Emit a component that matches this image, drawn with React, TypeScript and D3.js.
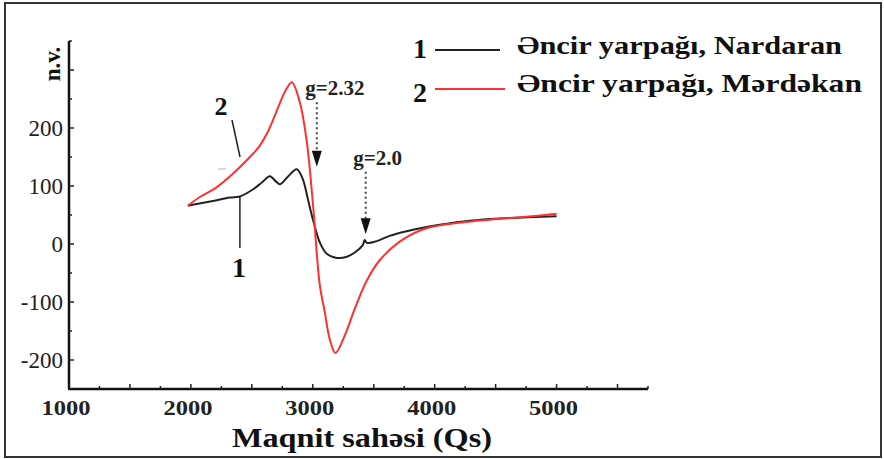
import * as d3 from 'd3'

// Series 1 — black (Nardaran)
const field1 = [1975, 2049, 2180, 2320, 2402, 2508, 2582, 2648, 2697, 2730, 2795, 2869, 2918, 2959, 3000, 3057, 3115, 3197, 3279, 3361, 3410, 3426, 3443, 3525, 3631, 3770, 3902, 4041, 4287, 4533, 5000]
const signal1 = [66, 69, 74, 80, 82, 94, 106, 117, 108, 103, 116, 129, 112, 78, 43, 3, -17, -24, -22, -12, -2, 7, 2, 5, 14, 22, 28, 33, 40, 44, 48]

// Series 2 — red (Mərdəkan)
const field2 = [1975, 2074, 2213, 2344, 2484, 2560, 2623, 2680, 2730, 2780, 2828, 2893, 2951, 3000, 3057, 3098, 3139, 3185, 3262, 3344, 3443, 3549, 3713, 3902, 4098, 4451, 4697, 5000]
const signal2 = [66, 81, 98, 121, 150, 168, 190, 217, 243, 266, 279, 245, 176, 72, -70, -117, -164, -188, -158, -112, -63, -28, 4, 25, 34, 42, 46, 52]

const xLabels = [1000, 2000, 3000, 4000, 5000]
const yLabels = [-200, -100, 0, 100, 200]
const legendNames = ['Əncir yarpağı, Nardaran', 'Əncir yarpağı, Mərdəkan']
const gMarks = [
  { label: 'g=2.32', field: 3033, from: 248, to: 133, dx: 18 },
  { label: 'g=2.0', field: 3434, from: 128, to: 17, dx: 12 },
]

const W = 884
const H = 459
const serif = '"Liberation Serif", "Times New Roman", serif'

export default function App() {
  const x = d3.scaleLinear().domain([1000, 5750]).range([69, 648])
  const y = d3.scaleLinear().domain([-250, 350]).range([389, 41])

  const line = d3.line<[number, number]>()
    .x(d => x(d[0]))
    .y(d => y(d[1]))
    .curve(d3.curveCatmullRom.alpha(0.5))

  const s1 = field1.map((f, i) => [f, signal1[i]] as [number, number])
  const s2 = field2.map((f, i) => [f, signal2[i]] as [number, number])

  const xTicks = d3.range(1000, 5751, 250)
  const yTicks = d3.range(-250, 351, 50)

  return (
    <svg width={W} height={H} style={{ position: 'absolute', left: 0, top: 0, background: '#fff' }}
      fontFamily={serif}>
      <rect x={5} y={3} width={876} height={454} fill="#fff" stroke="#333" strokeWidth={2} />

      {/* axes */}
      <line x1={x(1000)} x2={x(1000)} y1={y(350)} y2={y(-250)} stroke="#111" strokeWidth={2.5} />
      <line x1={x(1000) - 1} x2={x(5750)} y1={y(-250)} y2={y(-250)} stroke="#111" strokeWidth={2.5} />

      {xTicks.map(t => (
        <line key={'xt' + t} x1={x(t)} x2={x(t)} y1={y(-250)} y2={y(-250) - (t % 500 === 0 ? 5 : 3)}
          stroke="#222" strokeWidth={1.5} />
      ))}
      {yTicks.map(t => (
        <line key={'yt' + t} x1={x(1000)} x2={x(1000) + (t % 100 === 0 ? 5 : 3)} y1={y(t)} y2={y(t)}
          stroke="#222" strokeWidth={1.5} />
      ))}

      {xLabels.map(t => (
        <text key={'xl' + t} x={x(t) - 3} y={415} textAnchor="middle" fontSize={22} fontWeight="bold" fill="#222"
          textLength={49} lengthAdjust="spacingAndGlyphs">
          {t}
        </text>
      ))}
      {yLabels.map(t => (
        <text key={'yl' + t} x={63} y={y(t)} dy="0.35em" textAnchor="end" fontSize={23} fill="#222">
          {t}
        </text>
      ))}

      <text transform="translate(60,64) rotate(-90)" textAnchor="middle" fontSize={23} fontWeight="bold" fill="#111">
        n.v.
      </text>
      <text x={362} y={447} textAnchor="middle" fontSize={27} fontWeight="bold" fill="#111"
        textLength={260} lengthAdjust="spacingAndGlyphs">
        Maqnit sahəsi (Qs)
      </text>

      {/* curves */}
      <path d={line(s1) ?? ''} fill="none" stroke="#222" strokeWidth={2} />
      <path d={line(s2) ?? ''} fill="none" stroke="#ff3030" strokeWidth={2} />

      {/* g-value arrows */}
      {gMarks.map(g => (
        <g key={g.label}>
          <text x={x(g.field) + g.dx} y={y(g.from) - 5} textAnchor="middle" fontSize={21} fontWeight="bold" fill="#222">
            {g.label}
          </text>
          <line x1={x(g.field)} x2={x(g.field)} y1={y(g.from) + 2} y2={y(g.to) - 15}
            stroke="#444" strokeWidth={2} strokeDasharray="2,3" />
          <path d={`M${x(g.field) - 5},${y(g.to) - 16} L${x(g.field) + 5},${y(g.to) - 16} L${x(g.field)},${y(g.to)} Z`}
            fill="#111" />
        </g>
      ))}

      {/* curve labels */}
      <text x={221} y={115} textAnchor="middle" fontSize={26} fontWeight="bold" fill="#111">2</text>
      <line x1={232} y1={120} x2={240} y2={157} stroke="#222" strokeWidth={1.5} />
      <line x1={218} y1={169} x2={226} y2={169} stroke="#ccc" strokeWidth={1.5} />
      <line x1={x(2402)} y1={y(82)} x2={x(2402)} y2={248} stroke="#222" strokeWidth={1.5} />
      <text x={239} y={277} textAnchor="middle" fontSize={28} fontWeight="bold" fill="#111">1</text>

      {/* legend */}
      {legendNames.map((name, i) => (
        <g key={name}>
          <text x={420} y={i === 0 ? 58 : 102} textAnchor="middle" fontSize={28} fontWeight="bold" fill="#111">
            {i + 1}
          </text>
          <line x1={435} x2={i === 0 ? 500 : 505} y1={i === 0 ? 50 : 89} y2={i === 0 ? 50 : 89}
            stroke={i === 0 ? '#222' : '#ff3030'} strokeWidth={2} />
          <text x={517} y={i === 0 ? 54 : 92} fontSize={25} fontWeight="bold" fill="#111"
            textLength={i === 0 ? 325 : 345} lengthAdjust="spacingAndGlyphs">
            {name}
          </text>
        </g>
      ))}
    </svg>
  )
}
